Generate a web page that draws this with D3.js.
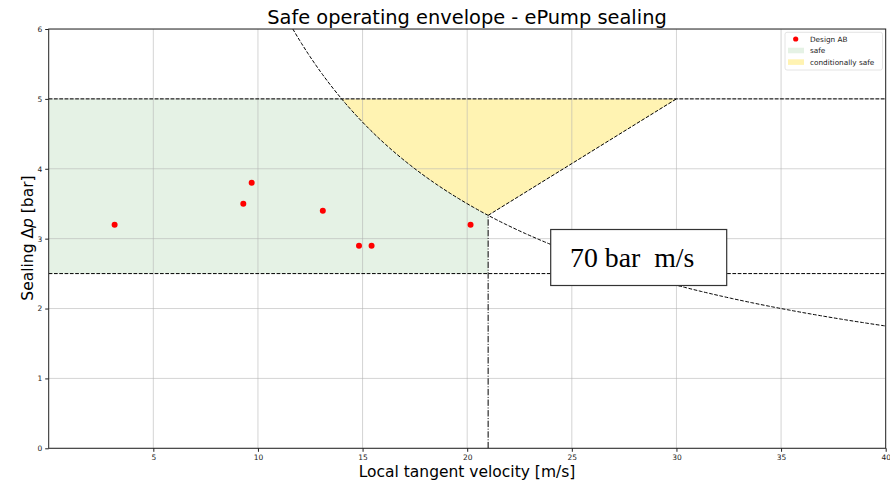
<!DOCTYPE html>
<html><head><meta charset="utf-8">
<script src="https://cdn.jsdelivr.net/npm/d3@7"></script>
<style>body{margin:0;background:#fff}svg{display:block}</style>
</head><body><svg id="c" width="890" height="481"></svg>
<script>
const xTicks = [5,10,15,20,25,30,35,40];
const yTicks = [0,1,2,3,4,5,6];
const designV = [3.15, 9.3, 9.7, 13.1, 14.83, 15.43, 20.16];
const designP = [3.2, 3.5, 3.8, 3.4, 2.9, 2.9, 3.2];
const pvLimit = 70;          // bar m/s
const pMax = 5, pMin = 2.5;  // bar
const vMax = 21, vTop = 30;  // m/s
const legendLabels = ["Design AB","safe","conditionally safe"];

const svg = d3.select("#c");
const L=48.7, R=885.7, T=29, B=448.3;
const x = d3.scaleLinear().domain([0,40]).range([L,R]);
const y = d3.scaleLinear().domain([0,6]).range([B,T]);
const font = "DejaVu Sans, sans-serif";

svg.append("defs").append("clipPath").attr("id","clip")
  .append("rect").attr("x",L).attr("y",T).attr("width",R-L).attr("height",B-T);
const g = svg.append("g").attr("clip-path","url(#clip)");

// safe region
const vKnee = pvLimit / pMax, pKnee = pvLimit / vMax;
const safePts = [[0,pMin],[0,pMax],[vKnee,pMax]];
d3.range(vKnee, vMax+0.001, 0.1).forEach(v=>safePts.push([v, pvLimit/v]));
safePts.push([vMax,pKnee],[vMax,pMin]);
const line = d3.line().x(d=>x(d[0])).y(d=>y(d[1]));
g.append("path").attr("d", line(safePts)+"Z").attr("fill","rgb(0,128,0)").attr("fill-opacity",0.1);

// conditionally safe region
const condPts = [[vKnee,pMax]];
d3.range(vKnee, vMax+0.001, 0.1).forEach(v=>condPts.push([v, pvLimit/v]));
condPts.push([vMax,pKnee],[vTop,pMax]);
g.append("path").attr("d", line(condPts)+"Z").attr("fill","rgb(255,215,0)").attr("fill-opacity",0.3);

// grid
g.selectAll(".gx").data(xTicks).join("line").attr("x1",d=>x(d)).attr("x2",d=>x(d)).attr("y1",T).attr("y2",B)
  .attr("stroke","#b0b0b0").attr("stroke-opacity",0.55).attr("stroke-width",1);
g.selectAll(".gy").data(yTicks).join("line").attr("y1",d=>y(d)).attr("y2",d=>y(d)).attr("x1",L).attr("x2",R)
  .attr("stroke","#b0b0b0").attr("stroke-opacity",0.55).attr("stroke-width",1);

// limit lines
const dash = "3.7,1.6";
[pMax,pMin].forEach(p=>g.append("line").attr("x1",L).attr("x2",R).attr("y1",y(p)).attr("y2",y(p))
  .attr("stroke","#000").attr("stroke-width",1).attr("stroke-dasharray",dash));
const curve = d3.range(pvLimit/6.2, 40.01, 0.1).map(v=>[v, pvLimit/v]);
g.append("path").attr("d", line(curve)).attr("fill","none").attr("stroke","#000").attr("stroke-width",1).attr("stroke-dasharray",dash);
g.append("path").attr("d", line([[vMax,pKnee],[vTop,pMax]])).attr("fill","none").attr("stroke","#000").attr("stroke-width",1).attr("stroke-dasharray",dash);
g.append("path").attr("d", line([[vMax,0],[vMax,pKnee]])).attr("fill","none").attr("stroke","#000").attr("stroke-width",1).attr("stroke-dasharray","6.4,1.6,1,1.6");

// points
g.selectAll(".pt").data(designV).join("circle").attr("cx",d=>x(d)).attr("cy",(d,i)=>y(designP[i])).attr("r",3).attr("fill","#ff0000");

// frame
svg.append("rect").attr("x",L).attr("y",T).attr("width",R-L).attr("height",B-T).attr("fill","none").attr("stroke","#222").attr("stroke-width",1);

// axes
const xa = svg.append("g").attr("transform",`translate(0,${B})`).call(d3.axisBottom(x).tickValues(xTicks).tickFormat(d3.format("d")).tickSize(3.5).tickSizeOuter(0));
const ya = svg.append("g").attr("transform",`translate(${L},0)`).call(d3.axisLeft(y).tickValues(yTicks).tickFormat(d3.format("d")).tickSize(3.5).tickSizeOuter(0));
[xa,ya].forEach(a=>{a.select(".domain").remove();a.selectAll("text").attr("font-family",font).attr("font-size",7.5).attr("fill","#222");a.selectAll("line").attr("stroke","#222");});

// titles
svg.append("text").attr("x",467).attr("y",24).attr("text-anchor","middle").attr("font-family",font).attr("font-size",19.4).text("Safe operating envelope - ePump sealing");
svg.append("text").attr("x",467).attr("y",477).attr("text-anchor","middle").attr("font-family",font).attr("font-size",15.5).text("Local tangent velocity [m/s]");
const yl = svg.append("text").attr("transform","translate(32.5,238) rotate(-90)").attr("text-anchor","middle").attr("font-family",font).attr("font-size",15.5);
yl.append("tspan").text("Sealing Δ");
yl.append("tspan").attr("font-style","italic").text("p");
yl.append("tspan").text(" [bar]");

// annotation box
svg.append("rect").attr("x",550.7).attr("y",229.5).attr("width",176).attr("height",56).attr("fill","#fff").attr("stroke","#333").attr("stroke-width",1.2);
svg.append("text").attr("x",570).attr("y",267).attr("font-family","Liberation Serif, DejaVu Serif, serif").attr("font-size",27.8).style("white-space","pre").text(pvLimit+" bar  m/s");

// legend
const lg = svg.append("g");
lg.append("rect").attr("x",785).attr("y",32.3).attr("width",97.5).attr("height",37.7).attr("rx",2).attr("fill","#fff").attr("fill-opacity",0.8).attr("stroke","#ddd").attr("stroke-width",0.8);
lg.append("circle").attr("cx",795.7).attr("cy",39).attr("r",2.6).attr("fill","#ff0000");
lg.append("rect").attr("x",788).attr("y",47.7).attr("width",16).attr("height",5.6).attr("fill","rgb(0,128,0)").attr("fill-opacity",0.1);
lg.append("rect").attr("x",788).attr("y",59.3).attr("width",16).attr("height",5.6).attr("fill","rgb(255,215,0)").attr("fill-opacity",0.3);
lg.selectAll(".lt").data(legendLabels).join("text").attr("x",810).attr("y",(d,i)=>41.8+i*11.5)
  .attr("font-family",font).attr("font-size",7.3).attr("fill","#222").text(d=>d);
</script></body></html>
